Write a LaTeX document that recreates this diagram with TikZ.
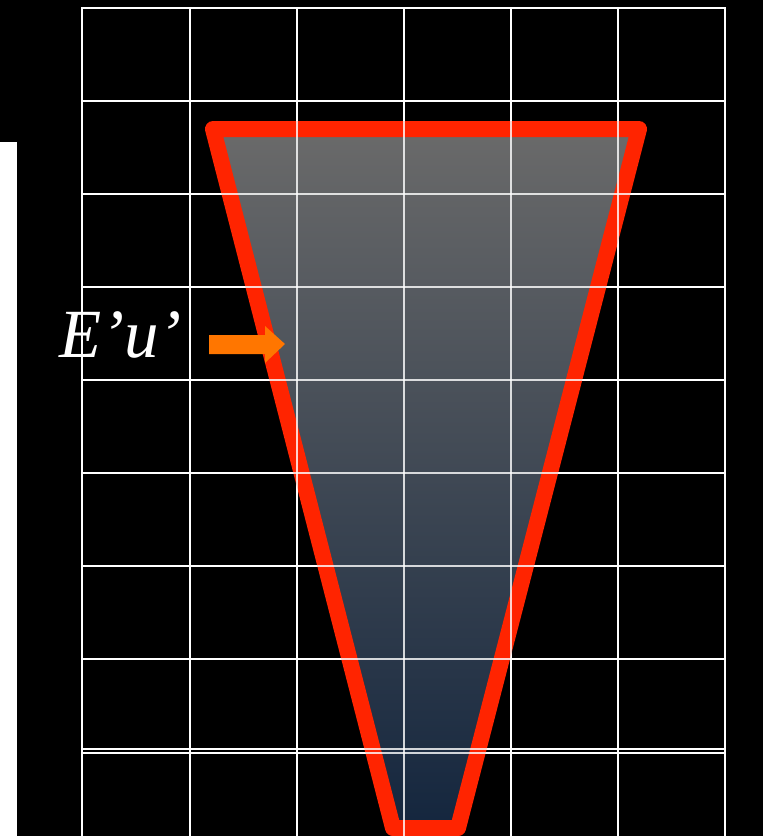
\documentclass[tikz,border=0pt]{standalone}
\usepackage{fontspec}
\setmainfont{Liberation Serif}
\begin{document}
\begin{tikzpicture}[x=1pt,y=-1pt,
  gridline/.style={draw=white,line width=2.2pt},
  outline/.style={draw={rgb,255:red,255;green,36;blue,0},line width=16pt,line join=round},
  blockarrow/.style={fill={rgb,255:red,255;green,118;blue,0}}]
\definecolor{topgray}{RGB}{106,106,106}
\definecolor{midgray}{RGB}{84,87,92}
\definecolor{botnavy}{RGB}{20,38,62}
\useasboundingbox (0,0) rectangle (763,836);
\fill[black] (0,0) rectangle (763,836);
\fill[white] (0,142) rectangle (17,836);
% grid below
\foreach \x in {82,190,297,404,511,618,725} \draw[gridline] (\x,7) -- (\x,836);
\foreach \y in {8,101,194,287,380,473,566,659,749,753} \draw[gridline] (82,\y) -- (725,\y);
% trapezoid
\coordinate (tl) at (213,129);
\coordinate (tr) at (639,129);
\coordinate (br) at (458,828);
\coordinate (bl) at (393,828);
\shade[top color=topgray,middle color=midgray,bottom color=botnavy] (tl) -- (tr) -- (br) -- (bl) -- cycle;
\draw[outline] (tl) -- (tr) -- (br) -- (bl) -- cycle;
% grid over
\begin{scope}[opacity=0.8]
\foreach \x in {82,190,297,404,511,618,725} \draw[gridline] (\x,7) -- (\x,836);
\foreach \y in {8,101,194,287,380,473,566,659,749,753} \draw[gridline] (82,\y) -- (725,\y);
\end{scope}
% arrow
\fill[blockarrow] (209,335) -- (265,335) -- (265,326) -- (285,344) -- (265,363) -- (265,354) -- (209,354) -- cycle;
\node[anchor=base west,inner sep=0pt,text=white,font=\itshape\fontsize{69}{69}\selectfont] (lbl) at (59,357) {E’u’};
\end{tikzpicture}
\end{document}
